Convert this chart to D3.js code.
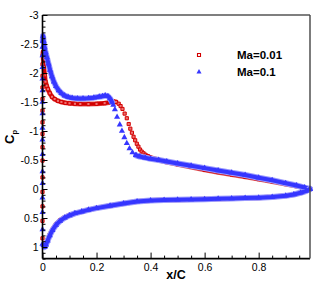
<!DOCTYPE html>
<html><head><meta charset="utf-8">
<script src="https://cdn.jsdelivr.net/npm/d3@7"></script>
<style>body{margin:0;background:#fff}svg{display:block}</style>
</head><body>
<svg id="c" width="327" height="291"></svg>
<script>
// ---------- tick labels ----------
const xTicks = [0, 0.2, 0.4, 0.6, 0.8];
const xTickLabels = ["0", "0.2", "0.4", "0.6", "0.8"];
const yTicks = [-3, -2.5, -2, -1.5, -1, -0.5, 0, 0.5, 1];
const yTickLabels = ["-3", "-2.5", "-2", "-1.5", "-1", "-0.5", "0", "0.5", "1"];
const seriesNames = ["Ma=0.01", "Ma=0.1"];

// ---------- Ma = 0.01 (red squares) ----------
const redLeX  = [0, 0, 0, 0, 0, 0, 0, 0, 0, 0, 0, 0, 0, 0];
const redLeCp = [0.85, 0.55, 0.3, 0.05, -0.2, -0.49, -0.72, -0.95, -1.15, -1.35, -1.55, -1.75, -1.95, -2.15];
const redUpperX  = [0.001, 0.002, 0.003, 0.005, 0.008, 0.011, 0.015, 0.02, 0.027, 0.035, 0.045, 0.057, 0.07, 0.085, 0.1, 0.12, 0.14, 0.17, 0.2, 0.23, 0.25, 0.262, 0.272];
const redUpperCp = [-2.3, -2.36, -2.25, -2.1, -1.96, -1.85, -1.78, -1.72, -1.65, -1.59, -1.55, -1.52, -1.5, -1.485, -1.477, -1.47, -1.466, -1.465, -1.468, -1.48, -1.495, -1.51, -1.5];
const redShockX  = [0.282, 0.289, 0.296, 0.304, 0.312, 0.319, 0.325, 0.331, 0.337, 0.343, 0.349, 0.355, 0.361, 0.367, 0.374, 0.381, 0.389];
const redShockCp = [-1.47, -1.43, -1.38, -1.30, -1.22, -1.12, -1.04, -0.97, -0.9, -0.84, -0.78, -0.73, -0.68, -0.645, -0.615, -0.59, -0.565];
const redTailX  = [0.389, 0.4, 0.43, 0.46, 0.5, 0.55, 0.6, 0.65, 0.7, 0.75, 0.8, 0.85, 0.9, 0.94, 0.97, 0.99];
const redTailCp = [-0.565, -0.54, -0.5, -0.465, -0.425, -0.38, -0.33, -0.29, -0.25, -0.21, -0.17, -0.13, -0.085, -0.05, -0.02, 0.0];
const redLowerX  = [0.004, 0.008, 0.013, 0.019, 0.027, 0.037, 0.05, 0.065, 0.082, 0.1, 0.12, 0.145, 0.17, 0.2, 0.25, 0.3, 0.35, 0.4, 0.45, 0.5, 0.55, 0.6, 0.65, 0.7, 0.75, 0.8, 0.85, 0.9, 0.93, 0.955, 0.975, 0.99];
const redLowerCp = [0.97, 0.99, 0.95, 0.88, 0.79, 0.7, 0.61, 0.54, 0.49, 0.45, 0.42, 0.39, 0.36, 0.33, 0.29, 0.25, 0.215, 0.197, 0.19, 0.185, 0.18, 0.175, 0.168, 0.163, 0.157, 0.15, 0.138, 0.118, 0.095, 0.065, 0.035, 0.0];

// ---------- Ma = 0.1 (blue triangles) ----------
const blueLeX  = [0, 0, 0, 0, 0, 0, 0, 0, 0, 0, 0, 0, 0, 0, 0, 0];
const blueLeCp = [0.95, 0.7, 0.4, 0.15, -0.1, -0.3, -0.6, -0.85, -1.05, -1.3, -1.5, -1.7, -1.9, -2.1, -2.3, -2.45];
const blueUpperX  = [0.001, 0.002, 0.004, 0.007, 0.011, 0.016, 0.022, 0.028, 0.035, 0.042, 0.05, 0.06, 0.07, 0.082, 0.095, 0.11, 0.13, 0.15, 0.17, 0.19, 0.21, 0.222, 0.232, 0.242, 0.25, 0.257];
const blueUpperCp = [-2.55, -2.64, -2.55, -2.45, -2.36, -2.27, -2.16, -2.05, -1.94, -1.85, -1.77, -1.70, -1.65, -1.61, -1.585, -1.57, -1.56, -1.56, -1.565, -1.575, -1.59, -1.6, -1.61, -1.6, -1.56, -1.5];
const blueShockX  = [0.262, 0.268, 0.276, 0.286, 0.294, 0.303, 0.312, 0.322, 0.333, 0.346];
const blueShockCp = [-1.45, -1.37, -1.24, -1.11, -1.0, -0.89, -0.79, -0.70, -0.63, -0.58];
const blueTailX  = [0.346, 0.36, 0.38, 0.4, 0.43, 0.46, 0.5, 0.55, 0.6, 0.65, 0.7, 0.75, 0.8, 0.85, 0.9, 0.94, 0.97, 0.99];
const blueTailCp = [-0.58, -0.56, -0.54, -0.52, -0.5, -0.475, -0.44, -0.4, -0.36, -0.32, -0.28, -0.24, -0.195, -0.15, -0.1, -0.06, -0.025, 0.0];
const blueLowerX  = [0.004, 0.008, 0.013, 0.019, 0.027, 0.037, 0.05, 0.065, 0.082, 0.1, 0.12, 0.145, 0.17, 0.2, 0.25, 0.3, 0.35, 0.4, 0.45, 0.5, 0.55, 0.6, 0.65, 0.7, 0.75, 0.8, 0.85, 0.9, 0.93, 0.955, 0.975, 0.99];
const blueLowerCp = [0.97, 1.0, 0.96, 0.89, 0.8, 0.71, 0.62, 0.55, 0.495, 0.455, 0.42, 0.39, 0.36, 0.33, 0.29, 0.25, 0.215, 0.197, 0.19, 0.185, 0.18, 0.175, 0.168, 0.163, 0.157, 0.15, 0.138, 0.118, 0.095, 0.065, 0.035, 0.0];

// ---------- chart ----------
const W = 327, H = 291;
const L = 42.5, R = 310, T = 15, B = 258.6;
const svg = d3.select("#c");
const x = d3.scaleLinear().domain([0, 0.99]).range([L, R]);
const y = d3.scaleLinear().domain([-3, 1.2]).range([T, B]);

const zip = (xs, ys) => xs.map((v, i) => [v, ys[i]]);
const line = d3.line().x(d => x(d[0])).y(d => y(d[1]));

const plot = svg.append("g");
const RED = "#d20000", BLUE = "#3636ff";

function drawSeries(segDense, segSparse, color, shape, isRed) {
  const g = plot.append("g");
  segDense.forEach(seg => {
    g.append("path").attr("d", line(seg)).attr("fill", "none")
      .attr("stroke", isRed ? "#e25a5a" : "#9a9aff").attr("stroke-width", isRed ? 5 : 6)
      .attr("stroke-linejoin", "round").attr("stroke-linecap", "round");
    g.append("path").attr("d", line(seg)).attr("fill", "none")
      .attr("stroke", color).attr("stroke-width", isRed ? 3.6 : 4)
      .attr("stroke-linejoin", "round").attr("stroke-linecap", "round");
  });
  const all = segDense.concat(segSparse).flat();
  const sym = d3.symbol().type(shape).size(isRed ? 10 : 16);
  g.selectAll("path.m").data(all).join("path").attr("class", "m")
    .attr("transform", d => `translate(${x(d[0])},${y(d[1])})`)
    .attr("d", sym)
    .attr("fill", isRed ? "#ee7272" : color)
    .attr("stroke", isRed ? color : "none")
    .attr("stroke-width", isRed ? 1 : 0);
}

drawSeries(
  [zip(redUpperX, redUpperCp), zip(redTailX, redTailCp), zip(redLowerX, redLowerCp)],
  [zip(redLeX, redLeCp), zip(redShockX, redShockCp)],
  RED, d3.symbolSquare, true);
drawSeries(
  [zip(blueUpperX, blueUpperCp), zip(blueTailX, blueTailCp), zip(blueLowerX, blueLowerCp)],
  [zip(blueLeX, blueLeCp), zip(blueShockX, blueShockCp)],
  BLUE, d3.symbolTriangle, false);

// ---------- axes ----------
const font = "'Liberation Sans', Arial, Helvetica, sans-serif";
const xMinor = d3.range(0, 0.99, 0.05).filter(v => Math.abs(v / 0.2 - Math.round(v / 0.2)) > 1e-6);
const yMinor = d3.range(-3, 1.2001, 0.1).filter(v => Math.abs(v / 0.5 - Math.round(v / 0.5)) > 1e-6);

const gx = svg.append("g").attr("transform", `translate(0,${B})`);
gx.call(d3.axisBottom(x).tickValues(xMinor).tickSize(-3).tickFormat(""));
gx.append("g").call(d3.axisBottom(x).tickValues(xTicks).tickSize(-6).tickPadding(5)
  .tickFormat((d, i) => xTickLabels[i]));
const gy = svg.append("g").attr("transform", `translate(${L},0)`);
gy.call(d3.axisLeft(y).tickValues(yMinor).tickSize(-3).tickFormat(""));
gy.append("g").call(d3.axisLeft(y).tickValues(yTicks).tickSize(-5).tickPadding(4)
  .tickFormat((d, i) => yTickLabels[i]));
svg.selectAll(".domain").remove();
svg.selectAll(".tick line").attr("stroke", "#000").attr("stroke-width", 1);
svg.selectAll(".tick text").attr("font-family", font).attr("font-size", 10.5).attr("fill", "#000");

// frame
svg.append("line").attr("x1", L).attr("x2", L).attr("y1", T).attr("y2", B).attr("stroke", "#000").attr("stroke-width", 1.6);
svg.append("line").attr("x1", L).attr("x2", R).attr("y1", B).attr("y2", B).attr("stroke", "#000").attr("stroke-width", 1.6);
svg.append("line").attr("x1", L).attr("x2", R).attr("y1", T).attr("y2", T).attr("stroke", "#000").attr("stroke-width", 1.2);
svg.append("line").attr("x1", R).attr("x2", R).attr("y1", T).attr("y2", B).attr("stroke", "#444").attr("stroke-width", 1.4);

// axis titles
svg.append("text").attr("x", 176).attr("y", 279).attr("text-anchor", "middle")
  .attr("font-family", font).attr("font-weight", "bold").attr("font-size", 12.5).text("x/C");
const yl = svg.append("text").attr("transform", "translate(13.5,137) rotate(-90)")
  .attr("text-anchor", "middle").attr("font-family", font).attr("font-weight", "bold").attr("font-size", 13);
yl.append("tspan").text("C");
yl.append("tspan").attr("font-size", 7.5).attr("dy", 3).text("p");

// legend
const leg = svg.append("g");
const legY = [55, 72];
leg.append("path").attr("transform", `translate(199,${legY[0]})`).attr("d", d3.symbol().type(d3.symbolSquare).size(9))
  .attr("fill", "#fff").attr("stroke", RED).attr("stroke-width", 1.1);
leg.append("path").attr("transform", `translate(199,${legY[1]})`).attr("d", d3.symbol().type(d3.symbolTriangle).size(11))
  .attr("fill", BLUE);
seriesNames.forEach((n, i) => {
  leg.append("text").attr("x", 237).attr("y", legY[i]).attr("dy", "0.36em")
    .attr("font-family", font).attr("font-weight", "bold").attr("font-size", 11.5).text(n);
});
</script>
</body></html>
